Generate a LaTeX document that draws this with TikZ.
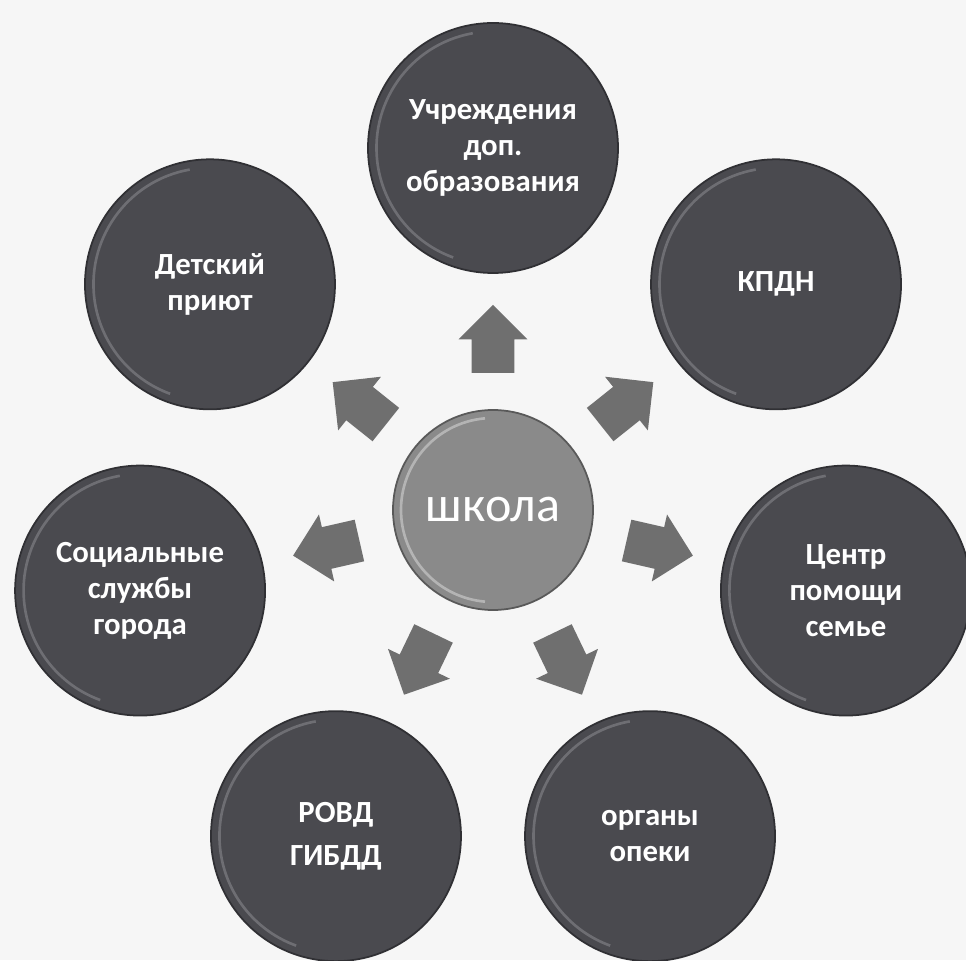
\documentclass[tikz,border=0pt]{standalone}
\usepackage{fontspec}
\setmainfont{Carlito}
\usepackage{tikz}
\usetikzlibrary{shapes.arrows,calc}
\definecolor{paper}{HTML}{F6F6F6}
\definecolor{orgfill}{HTML}{4A4A4F}
\definecolor{orgedge}{HTML}{303034}
\definecolor{orgrim}{HTML}{6E6E73}
\definecolor{schoolfill}{HTML}{8A8A8A}
\definecolor{schoolrim}{HTML}{B4B4B4}
\definecolor{arrowgray}{HTML}{6F6F6F}
\tikzstyle{agency}=[circle,minimum size=5cm,inner sep=0pt,fill=orgfill,draw=orgedge,line width=1pt,
	text=white,align=center,font=\bfseries\fontsize{17.5}{20.5}\selectfont,
	path picture={\draw[orgrim,line width=1.5pt] ([shift={(100:2.33)}]path picture bounding box.center) arc (100:250:2.33);}]
\tikzstyle{school}=[circle,minimum size=4cm,inner sep=0pt,fill=schoolfill,draw=gray!70!black,line width=1pt,
	text=white,font=\fontsize{28.5}{30}\selectfont,
	path picture={\draw[schoolrim,line width=1.5pt] ([shift={(95:1.84)}]path picture bounding box.center) arc (95:265:1.84);}]
\tikzstyle{outarrow}=[single arrow,fill=arrowgray,inner xsep=0pt,inner ysep=0.42cm,minimum height=1.36cm,
	minimum width=0pt,single arrow head extend=0.26cm]

\begin{document}
\begin{tikzpicture}
	\useasboundingbox[fill=paper] (-9.86,-9.0) rectangle (9.46,10.2);

	% school
	\node[school] (school) at (0,0) {школа};

	% partners
	\node[agency] (dop) at (90:7.24) {Учреждения\\доп.\\образования};
	\node[agency] (priyut) at (141.43:7.24) {Детский\\приют};
	\node[agency] (soc) at (192.86:7.24) {Социальные\\службы\\города};
	\node[agency] (rovd) at (244.29:7.24) {РОВД\\[4pt]ГИБДД};
	\node[agency] (opeka) at (295.71:7.24) {органы\\опеки};
	\node[agency] (centr) at (347.14:7.24) {Центр\\помощи\\семье};
	\node[agency] (kpdn) at (38.57:7.24) {КПДН};

	% arrows
	\node[outarrow,rotate=90] (a1) at ($(school)!0.443!(dop)$) {};
	\node[outarrow,rotate=141.43] (a2) at ($(school)!0.443!(priyut)$) {};
	\node[outarrow,rotate=192.86] (a3) at ($(school)!0.443!(soc)$) {};
	\node[outarrow,rotate=244.29] (a4) at ($(school)!0.443!(rovd)$) {};
	\node[outarrow,rotate=295.71] (a5) at ($(school)!0.443!(opeka)$) {};
	\node[outarrow,rotate=347.14] (a6) at ($(school)!0.443!(centr)$) {};
	\node[outarrow,rotate=38.57] (a7) at ($(school)!0.443!(kpdn)$) {};
\end{tikzpicture}
\end{document}
